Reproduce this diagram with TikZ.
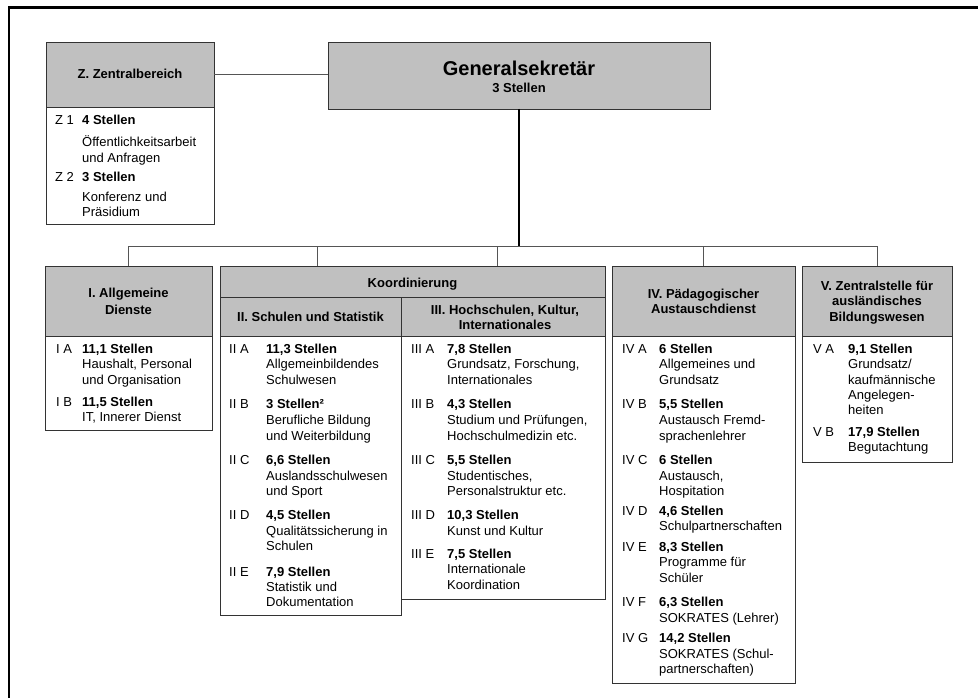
\documentclass[tikz,border=0pt]{standalone}
\usepackage{fontspec}
\setmainfont{Liberation Sans}
\definecolor{hdrgray}{HTML}{C0C0C0}
\definecolor{framegray}{HTML}{333333}
\definecolor{linegray}{HTML}{555555}
\tikzset{
  box/.style={draw=framegray, line width=0.8pt, rectangle, inner sep=0pt, outer sep=0pt, anchor=north west},
  hbox/.style={box, fill=hdrgray},
  tl/.style={anchor=base west, inner sep=0pt, font=\fontsize{13}{15.5}\selectfont},
  tb/.style={tl, font=\fontsize{13}{15.5}\selectfont\bfseries},
  th/.style={anchor=base, inner sep=0pt, font=\fontsize{13}{15.5}\selectfont\bfseries},
  conn/.style={draw=linegray, line width=0.8pt},
  mainconn/.style={draw=black, line width=1.8pt},
}
\begin{document}
\begin{tikzpicture}[x=1pt,y=-1pt]
\useasboundingbox (0,0) rectangle (978,698);
% outer frame (only top and left edges visible)
\draw[line width=2.5pt] (9,698) -- (9,7.3) -- (978,7.3);

% boxes
\node[hbox, minimum width=168pt, minimum height=65pt] (zh) at (46,42) {};
\node[box, minimum width=168pt, minimum height=117pt] (zb) at (46,107) {};
\node[hbox, minimum width=382pt, minimum height=67pt] (gen) at (328,42) {};
\node[hbox, minimum width=167pt, minimum height=70pt] (ih) at (45,266) {};
\node[box, minimum width=167pt, minimum height=94pt] (ib) at (45,336) {};
\node[hbox, minimum width=385pt, minimum height=31pt] (kh) at (220,266) {};
\node[hbox, minimum width=181pt, minimum height=39pt] (iih) at (220,297) {};
\node[box, minimum width=181pt, minimum height=279pt] (iib) at (220,336) {};
\node[hbox, minimum width=204pt, minimum height=39pt] (iiih) at (401,297) {};
\node[box, minimum width=204pt, minimum height=263pt] (iiib) at (401,336) {};
\node[hbox, minimum width=183pt, minimum height=70pt] (ivh) at (612,266) {};
\node[box, minimum width=183pt, minimum height=347pt] (ivb) at (612,336) {};
\node[hbox, minimum width=150pt, minimum height=70pt] (vh) at (802,266) {};
\node[box, minimum width=150pt, minimum height=126pt] (vb) at (802,336) {};

% connectors
\coordinate (bl) at (128.5,246);
\coordinate (br) at (877,246);
\coordinate (d2) at (317,246);
\coordinate (d3) at (497,246);
\draw[conn] (zh.east) -- (zh.east -| gen.west);
\draw[mainconn] (gen.south) -- (gen.south |- bl);
\draw[conn] (bl) -- (br);
\draw[conn] (bl) -- (ih.north);
\draw[conn] (d2) -- (d2 |- kh.north);
\draw[conn] (d3) -- (d3 |- kh.north);
\draw[conn] (ivh.north |- bl) -- (ivh.north);
\draw[conn] (br) -- (vh.north);

% Generalsekretär
\node[anchor=base, inner sep=0pt, font=\fontsize{20}{24}\selectfont\bfseries] (gent) at (519,76) {Generalsekretär};
\node[th] (gens) at (519,93) {3 Stellen};

% Z header and body
\node[th] (zt) at (130,79) {Z. Zentralbereich};
\node[tl] (z1l) at (55,125) {Z 1};
\node[tb] (z1s) at (82,125) {4 Stellen};
\node[tl] (z1a) at (82,147) {Öffentlichkeitsarbeit};
\node[tl] (z1b) at (82,163) {und Anfragen};
\node[tl] (z2l) at (55,182) {Z 2};
\node[tb] (z2s) at (82,182) {3 Stellen};
\node[tl] (z2a) at (82,201) {Konferenz und};
\node[tl] (z2b) at (82,217) {Präsidium};

% I
\node[th] (it1) at (128.5,297) {I. Allgemeine};
\node[th] (it2) at (128.5,314) {Dienste};
\node[tl] (ial) at (56,353) {I A};
\node[tb] (ias) at (82,353) {11,1 Stellen};
\node[tl] (ia1) at (82,368.5) {Haushalt, Personal};
\node[tl] (ia2) at (82,384) {und Organisation};
\node[tl] (ibl) at (56,406) {I B};
\node[tb] (ibs) at (82,406) {11,5 Stellen};
\node[tl] (ib1) at (82,421.5) {IT, Innerer Dienst};

% Koordinierung
\node[th] (kt) at (412.5,287) {Koordinierung};
\node[th] (iit) at (310.5,321) {II. Schulen und Statistik};
\node[th] (iiit1) at (505,314) {III. Hochschulen, Kultur,};
\node[th] (iiit2) at (505,329) {Internationales};

% II
\node[tl] (iial) at (229,353) {II A};
\node[tb] (iias) at (266,353) {11,3 Stellen};
\node[tl] (iia1) at (266,368.5) {Allgemeinbildendes};
\node[tl] (iia2) at (266,384) {Schulwesen};
\node[tl] (iibl) at (229,408.5) {II B};
\node[tb] (iibs) at (266,408.5) {3 Stellen²};
\node[tl] (iib1) at (266,424.5) {Berufliche Bildung};
\node[tl] (iib2) at (266,440) {und Weiterbildung};
\node[tl] (iicl) at (229,464) {II C};
\node[tb] (iics) at (266,464) {6,6 Stellen};
\node[tl] (iic1) at (266,480) {Auslandsschulwesen};
\node[tl] (iic2) at (266,495.5) {und Sport};
\node[tl] (iidl) at (229,519.5) {II D};
\node[tb] (iids) at (266,519.5) {4,5 Stellen};
\node[tl] (iid1) at (266,535) {Qualitätssicherung in};
\node[tl] (iid2) at (266,550.5) {Schulen};
\node[tl] (iiel) at (229,576) {II E};
\node[tb] (iies) at (266,576) {7,9 Stellen};
\node[tl] (iie1) at (266,591) {Statistik und};
\node[tl] (iie2) at (266,606.5) {Dokumentation};

% III
\node[tl] (iiial) at (411,353) {III A};
\node[tb] (iiias) at (447,353) {7,8 Stellen};
\node[tl] (iiia1) at (447,368.5) {Grundsatz, Forschung,};
\node[tl] (iiia2) at (447,384) {Internationales};
\node[tl] (iiibl) at (411,408.5) {III B};
\node[tb] (iiibs) at (447,408.5) {4,3 Stellen};
\node[tl] (iiib1) at (447,424.5) {Studium und Prüfungen,};
\node[tl] (iiib2) at (447,440) {Hochschulmedizin etc.};
\node[tl] (iiicl) at (411,464) {III C};
\node[tb] (iiics) at (447,464) {5,5 Stellen};
\node[tl] (iiic1) at (447,480) {Studentisches,};
\node[tl] (iiic2) at (447,495.5) {Personalstruktur etc.};
\node[tl] (iiidl) at (411,519.5) {III D};
\node[tb] (iiids) at (447,519.5) {10,3 Stellen};
\node[tl] (iiid1) at (447,535) {Kunst und Kultur};
\node[tl] (iiiel) at (411,558) {III E};
\node[tb] (iiies) at (447,558) {7,5 Stellen};
\node[tl] (iiie1) at (447,573.5) {Internationale};
\node[tl] (iiie2) at (447,589) {Koordination};

% IV
\node[th] (ivt1) at (703.5,298) {IV. Pädagogischer};
\node[th] (ivt2) at (703.5,313.5) {Austauschdienst};
\node[tl] (ival) at (622,353) {IV A};
\node[tb] (ivas) at (659,353) {6 Stellen};
\node[tl] (iva1) at (659,368.5) {Allgemeines und};
\node[tl] (iva2) at (659,384) {Grundsatz};
\node[tl] (ivbl) at (622,408.5) {IV B};
\node[tb] (ivbs) at (659,408.5) {5,5 Stellen};
\node[tl] (ivb1) at (659,424) {Austausch Fremd-};
\node[tl] (ivb2) at (659,440) {sprachenlehrer};
\node[tl] (ivcl) at (622,464) {IV C};
\node[tb] (ivcs) at (659,464) {6 Stellen};
\node[tl] (ivc1) at (659,480) {Austausch,};
\node[tl] (ivc2) at (659,495.5) {Hospitation};
\node[tl] (ivdl) at (622,515) {IV D};
\node[tb] (ivds) at (659,515) {4,6 Stellen};
\node[tl] (ivd1) at (659,530.5) {Schulpartnerschaften};
\node[tl] (ivel) at (622,551) {IV E};
\node[tb] (ives) at (659,551) {8,3 Stellen};
\node[tl] (ive1) at (659,566.5) {Programme für};
\node[tl] (ive2) at (659,582) {Schüler};
\node[tl] (ivfl) at (622,606) {IV F};
\node[tb] (ivfs) at (659,606) {6,3 Stellen};
\node[tl] (ivf1) at (659,622) {SOKRATES (Lehrer)};
\node[tl] (ivgl) at (622,642) {IV G};
\node[tb] (ivgs) at (659,642) {14,2 Stellen};
\node[tl] (ivg1) at (659,658) {SOKRATES (Schul-};
\node[tl] (ivg2) at (659,673) {partnerschaften)};

% V
\node[th] (vt1) at (877,290) {V. Zentralstelle für};
\node[th] (vt2) at (877,305.5) {ausländisches};
\node[th] (vt3) at (877,321) {Bildungswesen};
\node[tl] (val) at (813,353) {V A};
\node[tb] (vas) at (848,353) {9,1 Stellen};
\node[tl] (va1) at (848,368.5) {Grundsatz/};
\node[tl] (va2) at (848,384) {kaufmännische};
\node[tl] (va3) at (848,399) {Angelegen-};
\node[tl] (va4) at (848,414) {heiten};
\node[tl] (vbl) at (813,436) {V B};
\node[tb] (vbs) at (848,436) {17,9 Stellen};
\node[tl] (vb1) at (848,451) {Begutachtung};
\end{tikzpicture}
\end{document}
